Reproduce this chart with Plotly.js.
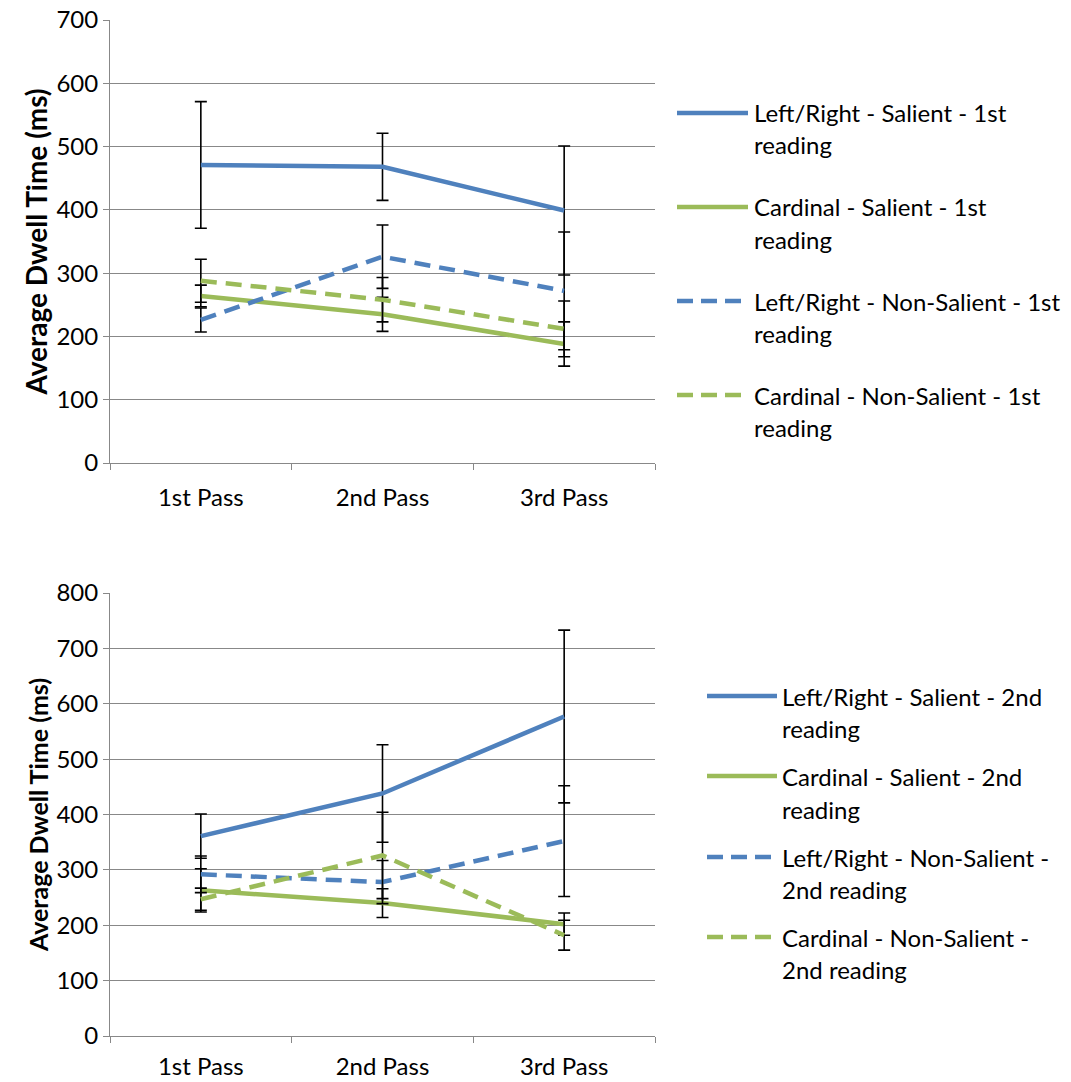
<!DOCTYPE html>
<html>
<head>
<meta charset="utf-8">
<script src="https://cdn.plot.ly/plotly-3.0.1.min.js"></script>
<style>html,body{margin:0;padding:0;background:#fff;}#chart{width:1071px;height:1082px;}</style>
</head>
<body>
<div id="chart"></div>
<script>
// ---------- data ----------
var categories = ['1st Pass', '2nd Pass', '3rd Pass'];

// top chart: 1st reading
var lrSalient1      = [471, 468, 399];
var lrSalient1Err   = [100, 53, 102];
var cardSalient1    = [264, 235, 188];
var cardSalient1Err = [17, 27, 35];
var lrNonSal1       = [226, 326, 272];
var lrNonSal1Err    = [19, 50, 93];
var cardNonSal1     = [288, 258, 212];
var cardNonSal1Err  = [34, 35, 44];

// bottom chart: 2nd reading
var lrSalient2      = [361, 438, 577];
var lrSalient2Err   = [40, 88, 156];
var cardSalient2    = [263, 240, 202];
var cardSalient2Err = [39, 26, 20];
var lrNonSal2       = [292, 278, 352];
var lrNonSal2Err    = [33, 39, 100];
var cardNonSal2     = [247, 326, 182];
var cardNonSal2Err  = [20, 78, 27];

var topNames = [
  ['Left/Right - Salient - 1st', 'reading'],
  ['Cardinal - Salient - 1st', 'reading'],
  ['Left/Right - Non-Salient - 1st', 'reading'],
  ['Cardinal - Non-Salient - 1st', 'reading']
];
var bottomNames = [
  ['Left/Right - Salient - 2nd', 'reading'],
  ['Cardinal - Salient - 2nd', 'reading'],
  ['Left/Right - Non-Salient -', '2nd reading'],
  ['Cardinal - Non-Salient -', '2nd reading']
];
var yTitle = 'Average Dwell Time (ms)';

// ---------- styling ----------
var BLUE = '#4F81BD', GREEN = '#9BBB59', GRID = '#888888';
var FONT = 'Lato, "Open Sans", sans-serif';
var W = 1071, H = 1082;
function px(x) { return x / W; }
function py(y) { return 1 - y / H; }

var styles = [
  {color: BLUE, dash: 'solid'},
  {color: GREEN, dash: 'solid'},
  {color: BLUE, dash: '16px,9px'},
  {color: GREEN, dash: '16px,9px'}
];

function mk(y, err, st, xa, ya) {
  return {
    x: categories, y: y, type: 'scatter', mode: 'lines',
    xaxis: xa, yaxis: ya, showlegend: false, hoverinfo: 'skip',
    line: {color: st.color, width: 4.5, dash: st.dash},
    error_y: {type: 'data', array: err, visible: true, color: '#000', thickness: 1.6, width: 6}
  };
}

var traces = [
  mk(lrSalient1, lrSalient1Err, styles[0], 'x', 'y'),
  mk(cardSalient1, cardSalient1Err, styles[1], 'x', 'y'),
  mk(lrNonSal1, lrNonSal1Err, styles[2], 'x', 'y'),
  mk(cardNonSal1, cardNonSal1Err, styles[3], 'x', 'y'),
  mk(lrSalient2, lrSalient2Err, styles[0], 'x2', 'y2'),
  mk(cardSalient2, cardSalient2Err, styles[1], 'x2', 'y2'),
  mk(lrNonSal2, lrNonSal2Err, styles[2], 'x2', 'y2'),
  mk(cardNonSal2, cardNonSal2Err, styles[3], 'x2', 'y2')
];

function xax(anchor, standoff) {
  return {
    domain: [px(110), px(655)], anchor: anchor, type: 'category',
    range: [-0.5, 2.5], showgrid: false, showline: true, linecolor: GRID, linewidth: 1,
    ticks: 'outside', tickson: 'boundaries', ticklen: 6, tickcolor: GRID,
    ticklabelstandoff: standoff,
    tickfont: {family: FONT, size: 24, color: '#000'}, fixedrange: true
  };
}
function yax(anchor, top, bottom, max, titleSize) {
  return {
    domain: [py(bottom), py(top)], anchor: anchor, range: [0, max], dtick: 100,
    showgrid: true, gridcolor: GRID, gridwidth: 1, zeroline: false,
    showline: true, linecolor: GRID, linewidth: 1,
    ticks: 'outside', ticklen: 6, tickcolor: GRID,
    tickfont: {family: FONT, size: 24, color: '#000'},
    title: {text: yTitle, standoff: 0, font: {family: FONT, size: titleSize, color: '#000', weight: 'bold'}},
    fixedrange: true
  };
}

var shapes = [], annotations = [];
function legend(names, lineX0, lineX1, textX, rows) {
  names.forEach(function (nm, i) {
    var st = styles[i];
    shapes.push({
      type: 'line', xref: 'paper', yref: 'paper',
      x0: px(lineX0), x1: px(lineX1), y0: py(rows[i][0]), y1: py(rows[i][0]),
      line: {color: st.color, width: 4.5, dash: st.dash === 'solid' ? 'solid' : '16px,8px'}
    });
    nm.forEach(function (t, j) {
      annotations.push({
        xref: 'paper', yref: 'paper', x: px(textX), y: py(rows[i][j]),
        xanchor: 'left', yanchor: 'middle', showarrow: false, text: t,
        font: {family: FONT, size: 24, color: '#000'}
      });
    });
  });
}
legend(topNames, 677, 748, 752, [[113, 144], [207, 239], [301, 333], [395, 427]]);
legend(bottomNames, 707, 777, 780, [[696, 728], [776, 809], [857, 889], [937, 969]]);

var layout = {
  width: W, height: H, margin: {l: 0, r: 0, t: 0, b: 0},
  paper_bgcolor: '#fff', plot_bgcolor: '#fff',
  xaxis: xax('y', 13), yaxis: yax('x', 20, 463, 700, 28),
  xaxis2: xax('y2', 9), yaxis2: yax('x2', 593, 1036, 800, 25),
  shapes: shapes, annotations: annotations, showlegend: false
};

Plotly.newPlot('chart', traces, layout, {displayModeBar: false, staticPlot: true});
</script>
</body>
</html>
